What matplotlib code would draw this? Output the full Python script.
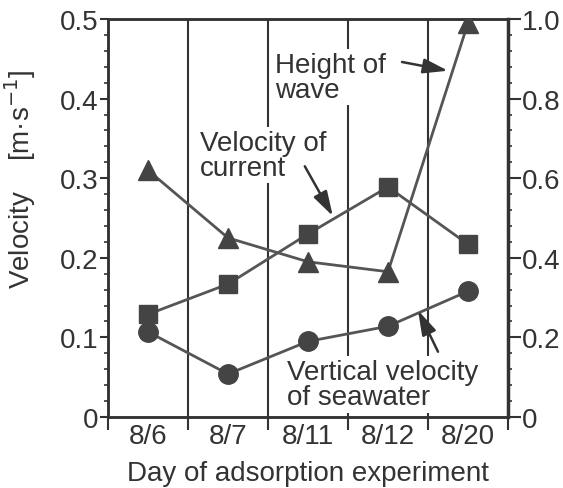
import matplotlib.pyplot as plt
from matplotlib.ticker import MultipleLocator, FixedLocator, NullFormatter

days = ["8/6", "8/7", "8/11", "8/12", "8/20"]
vertical_velocity = [0.107, 0.054, 0.095, 0.114, 0.158]   # left axis
current_velocity = [0.129, 0.167, 0.230, 0.289, 0.217]    # left axis
wave_height = [0.62, 0.45, 0.39, 0.365, 0.99]             # right axis

plt.rcParams['font.family'] = ['Liberation Sans', 'DejaVu Sans']
ink = "#333333"
line_col = "#555555"
mark_col = "#444444"
fs = 20

fig = plt.figure(figsize=(5.63, 4.89), dpi=100)
ax = fig.add_axes([108/563, 1 - 418/489, 400/563, 398/489])
ax2 = ax.twinx()

x = list(range(len(days)))

# separator lines between days
for b in [0.5, 1.5, 2.5, 3.5]:
    ax.axvline(b, color=ink, lw=1.5, zorder=1)

ax.plot(x, vertical_velocity, color=line_col, lw=2, marker="o", ms=14,
        mfc=mark_col, mec=mark_col, zorder=4)
ax.plot(x, current_velocity, color=line_col, lw=2, marker="s", ms=12.5,
        mfc=mark_col, mec=mark_col, zorder=4)
ax2.plot(x, wave_height, color=line_col, lw=2, marker="^", ms=14,
         mfc=mark_col, mec=mark_col, zorder=4)

ax.set_xlim(-0.5, 4.5)
ax.set_ylim(0, 0.5)
ax2.set_ylim(0, 1.0)

# x ticks: marks at the boundaries, labels at the centers
ax.xaxis.set_major_locator(FixedLocator([-0.5, 0.5, 1.5, 2.5, 3.5, 4.5]))
ax.xaxis.set_major_formatter(NullFormatter())
ax.xaxis.set_minor_locator(FixedLocator(x))
ax.set_xticklabels(days, minor=True)
ax.tick_params(axis="x", which="major", direction="out", length=9, width=1.5, color=ink)
ax.tick_params(axis="x", which="minor", length=0, labelsize=fs, labelcolor=ink, pad=4)

ax.set_yticks([0, 0.1, 0.2, 0.3, 0.4, 0.5])
ax.set_yticklabels(["0", "0.1", "0.2", "0.3", "0.4", "0.5"])
ax.yaxis.set_minor_locator(MultipleLocator(0.02))
ax.tick_params(axis="y", which="major", direction="out", length=6, width=1.5,
               color=ink, labelsize=fs, labelcolor=ink, pad=1)
ax.tick_params(axis="y", which="minor", direction="out", length=3, width=1.2, color=ink)

ax2.set_yticks([0, 0.2, 0.4, 0.6, 0.8, 1.0])
ax2.set_yticklabels(["0", "0.2", "0.4", "0.6", "0.8", "1.0"])
ax2.yaxis.set_minor_locator(MultipleLocator(0.04))
ax2.tick_params(axis="y", which="major", direction="out", length=9, width=1.5,
                color=ink, labelsize=fs, labelcolor=ink, pad=1)
ax2.tick_params(axis="y", which="minor", direction="out", length=3, width=1.2, color=ink)

for a in (ax, ax2):
    for s in a.spines.values():
        s.set_color(ink)
        s.set_linewidth(1.8)
ax2.spines["right"].set_linewidth(2.5)

ax.set_xlabel("Day of adsorption experiment", fontsize=fs, color=ink, labelpad=8)
ax.set_ylabel("Velocity    [m·s$^{-1}$]", fontsize=fs, color=ink,
              family=["Liberation Sans Narrow", "Liberation Sans", "DejaVu Sans"])
ax.yaxis.set_label_coords(-0.175, 0.6)

arrow = dict(arrowstyle="-|>,head_length=1.5,head_width=0.45", color=ink, lw=1.8,
             shrinkA=0, shrinkB=0)
box = dict(facecolor="white", edgecolor="none", pad=2)

ax.text(1.59, 0.427, "Height of\nwave", fontsize=fs, color=ink, ha="left", va="center",
        linespacing=0.95, bbox=box, zorder=2)
ax.annotate("", xy=(3.75, 0.435), xytext=(3.175, 0.446), arrowprops=arrow, zorder=5)

ax.text(0.65, 0.329, "Velocity of\ncurrent", fontsize=fs, color=ink, ha="left", va="center",
        linespacing=0.95, bbox=box, zorder=2)
ax.annotate("", xy=(2.31, 0.2525), xytext=(1.96, 0.315), arrowprops=arrow, zorder=5)

ax.text(1.74, 0.041, "Vertical velocity\nof seawater", fontsize=fs, color=ink, ha="left",
        va="center", linespacing=0.95, bbox=box, zorder=2)
ax.annotate("", xy=(3.375, 0.134), xytext=(3.625, 0.082), arrowprops=arrow, zorder=5)

fig.savefig("out.png", dpi=100)
